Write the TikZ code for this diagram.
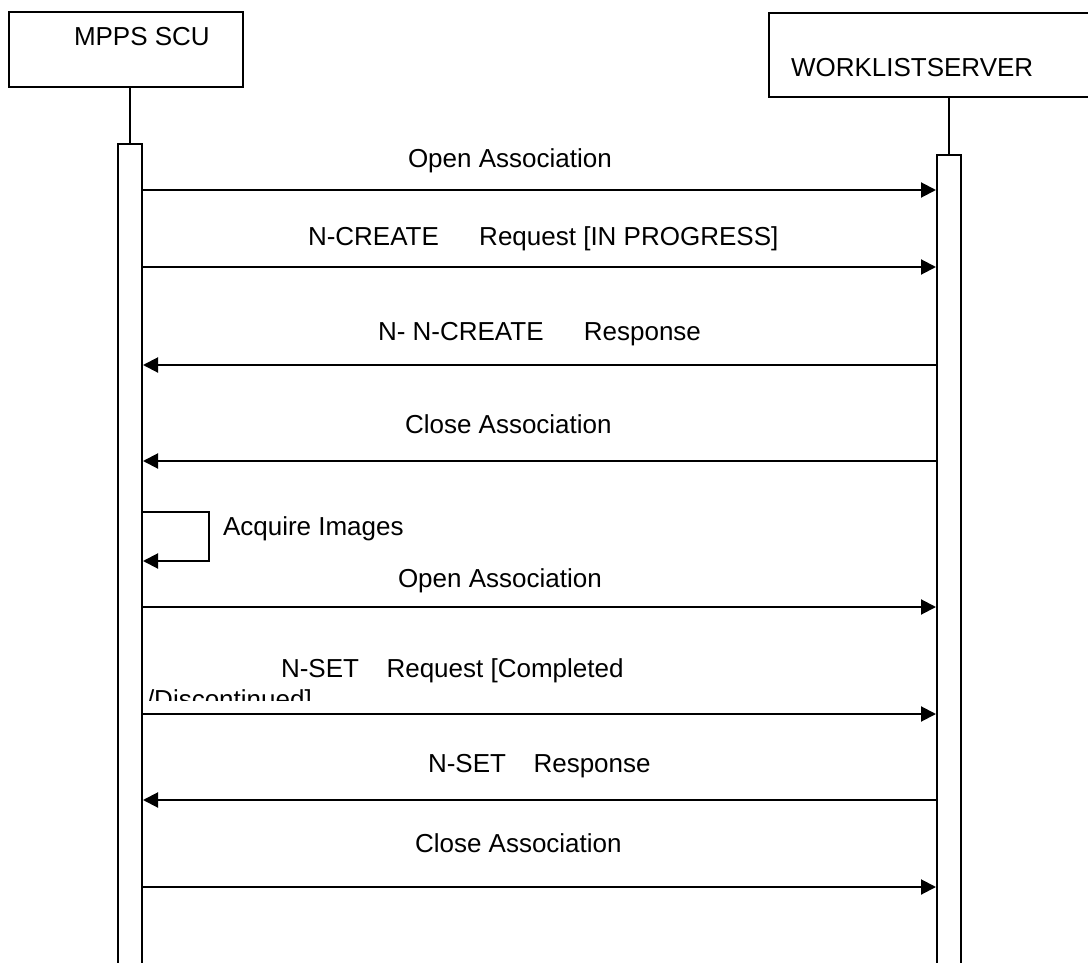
\documentclass[tikz,border=0pt]{standalone}
\usepackage{fontspec}
\setmainfont{Liberation Sans}
\usepackage{tikz}
\usetikzlibrary{arrows.meta, positioning}
\def\scuX{130}
\def\srvX{949}

\begin{document}
\begin{tikzpicture}[x=0.5pt, y=-0.5pt, line width=1pt,
    font=\fontsize{13pt}{15pt}\selectfont,
    actor/.style={draw, rectangle, anchor=north west, inner sep=0pt},
    bar/.style={draw, fill=white, rectangle, anchor=north, minimum width=12pt, minimum height=420pt, inner sep=0pt},
    msg/.style={-{Triangle[length=7.5pt, width=7.5pt]}},
    lbl/.style={anchor=base west, inner sep=0pt}]
    \clip (0,0) rectangle (1088,963);

    % Draw actor boxes
    \node[actor, minimum width=117pt, minimum height=37.5pt] (scu) at (8,11) {};
    \node[lbl] (scuLbl) at (73,46) {MPPS SCU};
    \node[actor, minimum width=170pt, minimum height=42pt] (srv) at (768,12) {};
    \node[lbl] (srvLbl) at (790,77) {WORKLISTSERVER};

    % Draw lifelines and activation bars
    \node[bar] (scuBar) at (\scuX,143) {};
    \node[bar] (srvBar) at (\srvX,154) {};
    \draw (scuBar.north) -- (scuBar.north |- scu.south);
    \draw (srvBar.north) -- (srvBar.north |- srv.south);

    % Draw messages to the server
    \foreach \y/\tx/\ty/\txt in {190/407/168/Open Association,
            267/307/245/{N-CREATE\hspace{1.55em}Request [IN PROGRESS]},
            607/397/587/Open Association,
            714/280/677/{N-SET\hspace{1.06em}Request [Completed},
            887/414/852/Close Association} {
        \draw[msg] (scuBar.east |- 0,\y) -- (srvBar.west |- 0,\y);
        \node[lbl] (toSrv\y) at (\tx,\ty) {\txt};
    }

    % Draw messages back to the SCU
    \foreach \y/\tx/\ty/\txt in {365/377/340/{N- N-CREATE\hspace{1.55em}Response},
            461/404/433/Close Association,
            800/427/772/{N-SET\hspace{1.06em}Response}} {
        \draw[msg] (srvBar.west |- 0,\y) -- (scuBar.east |- 0,\y);
        \node[lbl] (toScu\y) at (\tx,\ty) {\txt};
    }

    % Self message
    \coordinate (loopCorner) at (209,561);
    \draw[msg] (scuBar.east |- 0,512) -| (loopCorner) -- (scuBar.east |- loopCorner);
    \node[lbl] (acquire) at (222,535) {Acquire Images};

    % Second line of the N-SET request, cut off
    \begin{scope}
        \clip (140,640) rectangle (700,700);
        \node[lbl] (toSrvDisc) at (146,708) {/Discontinued]};
    \end{scope}
\end{tikzpicture}
\end{document}
